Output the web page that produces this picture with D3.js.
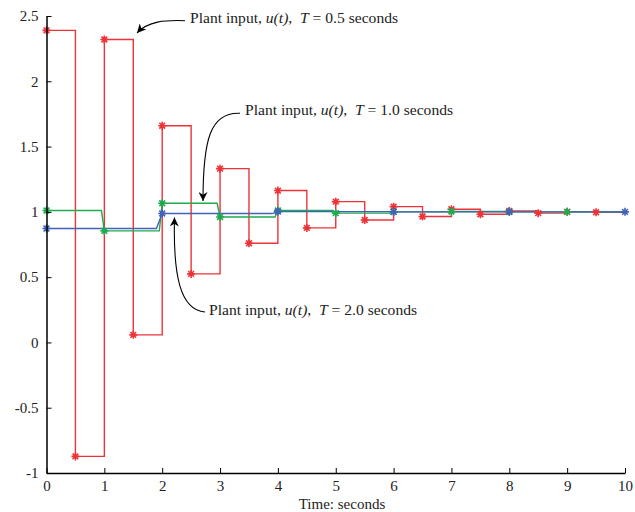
<!DOCTYPE html>
<html><head><meta charset="utf-8">
<script src="https://cdn.jsdelivr.net/npm/d3@7"></script>
<style>
body{margin:0;background:#fff;}
svg text{font-family:"Liberation Serif","Times New Roman",serif;}
</style></head>
<body><svg id="c" width="635" height="512"></svg>
<script>
// ---- data ----
const xTicks = [0,1,2,3,4,5,6,7,8,9,10];
const yTicks = [-1,-0.5,0,0.5,1,1.5,2,2.5];
const yTickLabels = ["-1","-0.5","0","0.5","1","1.5","2","2.5"];
const periods = [0.5, 1.0, 2.0];
const redValues = [2.39,-0.873,2.32,0.058,1.66,0.525,1.331,0.76,1.163,0.877,1.078,0.938,1.04,0.964,1.02,0.982,1.007,0.99,1.0,0.997];
const greenValues = [1.01,0.854,1.066,0.961,1.01,0.99,1.0,1.003,1.0,1.0];
const blueValues = [0.872,0.987,1.002,1.0,1.0,1.0];
const annotations = ["0.5","1.0","2.0"];

const svg = d3.select("#c");
const x = d3.scaleLinear().domain([0,10]).range([46.5,625]);
const y = d3.scaleLinear().domain([-1,2.5]).range([473,16]);

const series = [
  {vals: redValues, T: periods[0], color:"#ee3338", ramp:0, markEnd:false},
  {vals: greenValues, T: periods[1], color:"#1faa50", ramp:0.05, markEnd:false},
  {vals: blueValues, T: periods[2], color:"#4262b8", ramp:0.1, markEnd:true}
];

function stepPts(s){
  const pts=[];
  s.vals.forEach((v,k)=>{
    const t0=k*s.T;
    if(k===s.vals.length-1 && s.markEnd){ pts.push([t0,v]); return; }
    pts.push([t0,v]);
    const t1=Math.min((k+1)*s.T,10);
    const next = s.vals[k+1];
    if(next!==undefined && s.ramp>0) pts.push([t1-s.ramp,v]);
    else pts.push([t1,v]);
  });
  return pts;
}
const line = d3.line().x(d=>x(d[0])).y(d=>y(d[1]));

function star(g,cx,cy,color){
  const r=4, rd=r*0.72;
  const p = `M${cx-r},${cy}L${cx+r},${cy}M${cx},${cy-r}L${cx},${cy+r}`+
            `M${cx-rd},${cy-rd}L${cx+rd},${cy+rd}M${cx-rd},${cy+rd}L${cx+rd},${cy-rd}`;
  g.append("path").attr("d",p).attr("stroke",color).attr("stroke-width",1.6).attr("fill","none");
}

series.forEach(s=>{
  svg.append("path").attr("d",line(stepPts(s))).attr("fill","none")
     .attr("stroke",s.color).attr("stroke-width",1.4);
});
series.forEach(s=>{
  const g=svg.append("g");
  s.vals.forEach((v,k)=>star(g,x(k*s.T),y(v),s.color));
});

// axes
const xAxis = d3.axisBottom(x).tickValues(xTicks).tickSizeInner(-5).tickSizeOuter(0).tickPadding(7.5).tickFormat(d3.format("d"));
const yAxis = d3.axisLeft(y).tickValues(yTicks).tickSizeInner(-5).tickSizeOuter(0).tickPadding(8).tickFormat((d,i)=>yTickLabels[i]);
const gx = svg.append("g").attr("transform",`translate(0,${y(-1)})`).call(xAxis);
const gy = svg.append("g").attr("transform",`translate(${x(0)},0)`).call(yAxis);
[gx,gy].forEach(g=>{
  g.select(".domain").attr("stroke","#000").attr("stroke-width",1.5);
  g.selectAll(".tick line").attr("stroke","#000").attr("stroke-width",1);
  g.selectAll(".tick text").attr("font-size",15).attr("fill","#222").attr("font-family","Liberation Serif, serif");
});
svg.append("text").attr("x",342).attr("y",508.5).attr("text-anchor","middle")
   .attr("font-size",15).attr("fill","#222").text("Time: seconds");

// annotations
const ann = [
  {tx:190, ty:22.5, T:annotations[0], path:"M185,20.7 C165,20 148,21 137,33"},
  {tx:245, ty:114.5, T:annotations[1], path:"M240,113.3 C210,112 203,140 203,201"},
  {tx:209, ty:315, T:annotations[2], path:"M205,312 C180,310 173,275 174.5,217.5"}
];
svg.append("defs").append("marker").attr("id","ah").attr("viewBox","0 0 10 10")
  .attr("refX",10).attr("refY",5).attr("markerWidth",9).attr("markerHeight",9)
  .attr("markerUnits","userSpaceOnUse").attr("orient","auto")
  .append("path").attr("d","M0,0L10,5L0,10L3,5Z").attr("fill","#000");
ann.forEach(a=>{
  svg.append("path").attr("d",a.path).attr("fill","none").attr("stroke","#000")
     .attr("stroke-width",1.1).attr("marker-end","url(#ah)");
  const t = svg.append("text").attr("x",a.tx).attr("y",a.ty).attr("font-size",15.6).attr("fill","#222");
  t.append("tspan").text("Plant input, ");
  t.append("tspan").attr("font-style","italic").text("u(t)");
  t.append("tspan").text(",\u00a0 ");
  t.append("tspan").attr("font-style","italic").text("T");
  t.append("tspan").text(" = " + a.T + " seconds");
});
</script></body></html>
